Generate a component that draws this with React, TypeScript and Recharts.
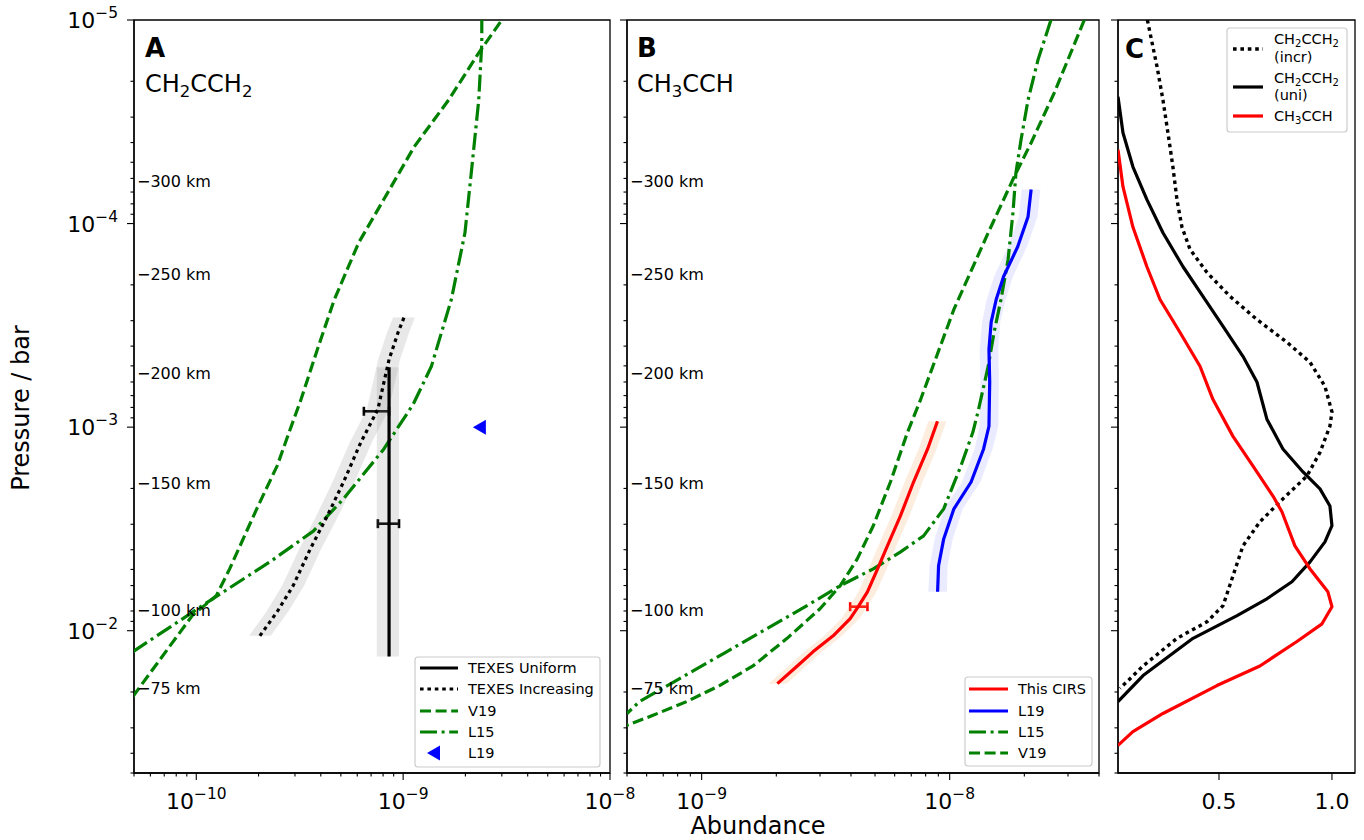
import React from "react";
import { ScatterChart, Scatter, XAxis, YAxis, ReferenceArea, ErrorBar } from "recharts";

const FONT = "'DejaVu Sans', sans-serif";
const GREEN = "#008000";
const LW = 3.2;
const DASH = "11 4.6";
const DASHDOT = "17 4.6 3 4.6";
const DOT = "3.6 3.8";

// axes
const pressDomain = [1e-5, 5e-2];
const domainA = [5e-11, 1e-8];
const domainB = [5e-10, 4e-8];
const domainC = [0.053, 1.102];

const yTicks = [
  1e-5, 2e-5, 3e-5, 4e-5, 5e-5, 6e-5, 7e-5, 8e-5, 9e-5,
  1e-4, 2e-4, 3e-4, 4e-4, 5e-4, 6e-4, 7e-4, 8e-4, 9e-4,
  1e-3, 2e-3, 3e-3, 4e-3, 5e-3, 6e-3, 7e-3, 8e-3, 9e-3,
  1e-2, 2e-2, 3e-2, 4e-2, 5e-2,
];
const xTicksA = [
  5e-11, 6e-11, 7e-11, 8e-11, 9e-11,
  1e-10, 2e-10, 3e-10, 4e-10, 5e-10, 6e-10, 7e-10, 8e-10, 9e-10,
  1e-9, 2e-9, 3e-9, 4e-9, 5e-9, 6e-9, 7e-9, 8e-9, 9e-9, 1e-8,
];
const xTicksB = [
  5e-10, 6e-10, 7e-10, 8e-10, 9e-10,
  1e-9, 2e-9, 3e-9, 4e-9, 5e-9, 6e-9, 7e-9, 8e-9, 9e-9,
  1e-8, 2e-8, 3e-8, 4e-8,
];
const xTicksC = [0.5, 1.0];

// altitude markers
const kmLabels = ["300", "250", "200", "150", "100", "75"];
const kmPress = [6.15e-5, 1.76e-4, 5.43e-4, 1.88e-3, 7.9e-3, 1.92e-2];

// panel A: CH2CCH2
const v19PressA = [2.11e-2, 8.43e-3, 6.73e-3, 4.97e-3, 2.52e-3, 1.55e-3, 1.06e-3, 7.3e-4, 4.15e-4, 2.36e-4, 1.24e-4, 7.6e-5, 4.2e-5, 2.47e-5, 1.45e-5, 1.0e-5];
const v19AbunA = [4.93e-11, 9.56e-11, 1.25e-10, 1.45e-10, 1.96e-10, 2.46e-10, 2.81e-10, 3.21e-10, 3.85e-10, 4.65e-10, 6.1e-10, 8.07e-10, 1.13e-9, 1.66e-9, 2.32e-9, 3.0e-9];
const l15PressA = [1.27e-2, 6.97e-3, 4.59e-3, 3.24e-3, 2.25e-3, 1.28e-3, 7.7e-4, 5.02e-4, 2.36e-4, 1.11e-4, 5.26e-5, 2.47e-5, 1.3e-5, 1.0e-5];
const l15AbunA = [4.93e-11, 1.2e-10, 2.27e-10, 3.68e-10, 5.15e-10, 8.07e-10, 1.12e-9, 1.37e-9, 1.71e-9, 1.99e-9, 2.15e-9, 2.32e-9, 2.4e-9, 2.4e-9];
const uniPress = [5.08e-4, 1.34e-2];
const uniAbun = [8.55e-10, 8.55e-10];
const uniLo = [7.46e-10, 7.46e-10];
const uniHi = [9.55e-10, 9.55e-10];
const incrPress = [1.06e-2, 8.07e-3, 6.01e-3, 3.96e-3, 2.73e-3, 1.86e-3, 1.19e-3, 8.17e-4, 4.65e-4, 3.42e-4, 2.89e-4];
const incrAbun = [2.03e-10, 2.46e-10, 2.94e-10, 3.56e-10, 4.3e-10, 5.15e-10, 6.24e-10, 7.55e-10, 8.55e-10, 9.46e-10, 1.01e-9];
const incrLo = [1.8e-10, 2.18e-10, 2.6e-10, 3.15e-10, 3.8e-10, 4.56e-10, 5.52e-10, 6.68e-10, 7.57e-10, 8.37e-10, 8.94e-10];
const incrHi = [2.29e-10, 2.78e-10, 3.32e-10, 4.02e-10, 4.86e-10, 5.82e-10, 7.05e-10, 8.53e-10, 9.66e-10, 1.07e-9, 1.14e-9];
const errPressA = [8.36e-4, 2.98e-3];
const errAbunA = [7.43e-10, 8.55e-10];
const errLowA = [0.97e-10, 1.0e-10];
const errHighA = [1.12e-10, 1.0e-10];
const l19PointPress = [1e-3];
const l19PointAbun = [2.35e-9];

// panel B: CH3CCH
const l19Press = [6.8e-5, 9.25e-5, 1.3e-4, 1.82e-4, 2.36e-4, 3.05e-4, 4.15e-4, 6.0e-4, 9.9e-4, 1.28e-3, 1.86e-3, 2.52e-3, 3.54e-3, 4.8e-3, 6.44e-3];
const l19Abun = [2.13e-8, 2.07e-8, 1.88e-8, 1.65e-8, 1.54e-8, 1.47e-8, 1.44e-8, 1.45e-8, 1.44e-8, 1.37e-8, 1.22e-8, 1.04e-8, 9.46e-9, 9.02e-9, 8.94e-9];
const l19Lo = [1.95e-8, 1.9e-8, 1.72e-8, 1.51e-8, 1.41e-8, 1.35e-8, 1.32e-8, 1.33e-8, 1.32e-8, 1.26e-8, 1.12e-8, 9.5e-9, 8.7e-9, 8.3e-9, 8.2e-9];
const l19Hi = [2.32e-8, 2.26e-8, 2.05e-8, 1.8e-8, 1.68e-8, 1.6e-8, 1.57e-8, 1.58e-8, 1.57e-8, 1.49e-8, 1.33e-8, 1.13e-8, 1.03e-8, 9.8e-9, 9.75e-9];
const cirsPress = [9.36e-4, 1.28e-3, 1.86e-3, 2.73e-3, 3.83e-3, 4.97e-3, 6.44e-3, 7.62e-3, 8.73e-3, 1.06e-2, 1.27e-2, 1.49e-2, 1.82e-2];
const cirsAbun = [8.93e-9, 8.15e-9, 7.15e-9, 6.33e-9, 5.61e-9, 5.12e-9, 4.66e-9, 4.28e-9, 3.97e-9, 3.39e-9, 2.81e-9, 2.43e-9, 2.02e-9];
const cirsLo = [8.2e-9, 7.5e-9, 6.58e-9, 5.82e-9, 5.16e-9, 4.71e-9, 4.29e-9, 3.94e-9, 3.65e-9, 3.12e-9, 2.59e-9, 2.24e-9, 1.86e-9];
const cirsHi = [9.7e-9, 8.86e-9, 7.77e-9, 6.88e-9, 6.1e-9, 5.57e-9, 5.07e-9, 4.65e-9, 4.32e-9, 3.68e-9, 3.05e-9, 2.64e-9, 2.2e-9];
const errPressB = [7.62e-3];
const errAbunB = [4.28e-9];
const errLowB = [0.31e-9];
const errHighB = [0.38e-9];
const v19PressB = [1.0e-5, 2.28e-5, 4.01e-5, 5.89e-5, 1.11e-4, 2.64e-4, 7.3e-4, 1.06e-3, 1.86e-3, 3.05e-3, 4.44e-3, 6.01e-3, 7.8e-3, 1.09e-2, 1.49e-2, 1.86e-2, 2.23e-2, 2.61e-2, 2.92e-2];
const v19AbunB = [3.49e-8, 2.64e-8, 2.13e-8, 1.82e-8, 1.43e-8, 1.04e-8, 7.64e-9, 6.76e-9, 5.77e-9, 4.92e-9, 4.24e-9, 3.62e-9, 3.0e-9, 2.21e-9, 1.61e-9, 1.18e-9, 8.7e-10, 6.33e-10, 4.97e-10];
const l15PressB = [1.0e-5, 1.57e-5, 2.47e-5, 3.87e-5, 5.62e-5, 8.83e-5, 1.5e-4, 2.36e-4, 3.42e-4, 5.02e-4, 8.43e-4, 1.06e-3, 1.55e-3, 2.52e-3, 3.42e-3, 4.1e-3, 4.97e-3, 6.01e-3, 7.53e-3, 9.77e-3, 1.27e-2, 1.72e-2, 2.23e-2, 2.55e-2];
const l15AbunB = [2.56e-8, 2.27e-8, 2.07e-8, 1.94e-8, 1.85e-8, 1.8e-8, 1.72e-8, 1.61e-8, 1.51e-8, 1.43e-8, 1.3e-8, 1.24e-8, 1.11e-8, 9.46e-9, 7.85e-9, 6.34e-9, 4.92e-9, 3.62e-9, 2.66e-9, 1.83e-9, 1.26e-9, 8.15e-10, 5.61e-10, 5.0e-10];

// panel C: normalised contribution functions
const cIncrPress = [1.0e-5, 1.7e-5, 2.47e-5, 3.58e-5, 5.26e-5, 7.63e-5, 1.04e-4, 1.34e-4, 1.74e-4, 2.28e-4, 2.96e-4, 3.83e-4, 4.8e-4, 6.3e-4, 8.43e-4, 9.89e-4, 1.33e-3, 1.74e-3, 2.25e-3, 2.92e-3, 3.83e-3, 5.37e-3, 7.53e-3, 9.04e-3, 1.09e-2, 1.49e-2, 1.92e-2];
const cIncrVal = [0.183, 0.226, 0.252, 0.274, 0.296, 0.314, 0.336, 0.372, 0.447, 0.549, 0.668, 0.801, 0.903, 0.969, 1.0, 0.991, 0.947, 0.889, 0.783, 0.681, 0.606, 0.562, 0.518, 0.447, 0.314, 0.164, 0.062];
const cUniPress = [2.38e-5, 3.58e-5, 5.26e-5, 7.63e-5, 1.11e-4, 1.63e-4, 2.28e-4, 3.2e-4, 4.49e-4, 6.0e-4, 9.14e-4, 1.28e-3, 1.66e-3, 2.01e-3, 2.44e-3, 3.05e-3, 3.66e-3, 4.59e-3, 5.75e-3, 6.97e-3, 8.43e-3, 1.09e-2, 1.66e-2, 2.23e-2];
const cUniVal = [0.053, 0.075, 0.119, 0.181, 0.252, 0.341, 0.429, 0.518, 0.606, 0.668, 0.712, 0.783, 0.872, 0.947, 0.991, 1.0, 0.969, 0.903, 0.823, 0.712, 0.58, 0.385, 0.164, 0.053];
const cMaPress = [4.34e-5, 6.59e-5, 1.04e-4, 1.63e-4, 2.36e-4, 3.42e-4, 5.02e-4, 7.3e-4, 1.11e-3, 1.55e-3, 2.18e-3, 2.61e-3, 3.83e-3, 4.97e-3, 6.44e-3, 7.62e-3, 9.25e-3, 1.13e-2, 1.49e-2, 1.86e-2, 2.55e-2, 3.13e-2, 3.66e-2];
const cMaVal = [0.053, 0.075, 0.119, 0.181, 0.239, 0.327, 0.416, 0.473, 0.562, 0.65, 0.739, 0.779, 0.836, 0.903, 0.982, 1.0, 0.956, 0.845, 0.681, 0.491, 0.252, 0.119, 0.053];

const pts = (p: number[], x: number[]) => p.map((y, i) => ({ x: x[i], y }));
const band = (p: number[], lo: number[], hi: number[]) => [
  ...p.map((y, i) => ({ x: lo[i], y })),
  ...p.map((y, i) => ({ x: hi[i], y })).reverse(),
];
const errPts = (p: number[], x: number[], lo: number[], hi: number[]) =>
  p.map((y, i) => ({ x: x[i], y, err: [lo[i], hi[i]] }));
const kmPts = (x: number) => kmPress.map((y, i) => ({ x, y, label: kmLabels[i] }));

const isDecade = (v: number) => {
  const l = Math.log10(v);
  return Math.abs(l - Math.round(l)) < 1e-6;
};

const Hide = () => <g />;

const toPoints = (props: any) => (props.points || []).map((p: any) => `${p.x},${p.y}`).join(" ");

const polygon = (fill: string, opacity: number) => (props: any) => (
  <polygon points={toPoints(props)} fill={fill} fillOpacity={opacity} stroke="none" />
);

const polyline = (stroke: string, width: number, dash?: string) => (props: any) => (
  <polyline
    points={toPoints(props)}
    fill="none"
    stroke={stroke}
    strokeWidth={width}
    strokeDasharray={dash}
    strokeLinejoin="round"
  />
);

const TriLeft = (props: any) => {
  const { cx, cy } = props;
  return <polygon points={`${cx - 7},${cy} ${cx + 6},${cy - 7.5} ${cx + 6},${cy + 7.5}`} fill="#0000ff" />;
};

const KmLabel = (props: any) => {
  const label = props.payload?.label ?? props.label;
  return (
    <text x={props.cx + 3} y={props.cy + 6} fontSize={16} fontFamily={FONT} fill="#000">
      {`\u2212${label} km`}
    </text>
  );
};

function PowerLabel({ x, y, v, anchor }: { x: number; y: number; v: number; anchor: string }) {
  const e = Math.round(Math.log10(v));
  return (
    <text x={x} y={y} textAnchor={anchor} fontFamily={FONT} fontSize={22} fill="#000">
      <tspan>10</tspan>
      <tspan dy={-10} fontSize={15.5}>{e < 0 ? `\u2212${-e}` : `${e}`}</tspan>
    </text>
  );
}

const logXTick = (props: any) => {
  const { x, y, payload } = props;
  const major = isDecade(payload.value);
  return (
    <g>
      <line x1={x} x2={x} y1={y} y2={y + (major ? 7 : 3.5)} stroke="#000" strokeWidth={1.1} />
      {major && <PowerLabel x={x} y={y + 36} v={payload.value} anchor="middle" />}
    </g>
  );
};

const linXTick = (props: any) => {
  const { x, y, payload } = props;
  return (
    <g>
      <line x1={x} x2={x} y1={y} y2={y + 7} stroke="#000" strokeWidth={1.1} />
      <text x={x} y={y + 36} textAnchor="middle" fontFamily={FONT} fontSize={22} fill="#000">
        {payload.value.toFixed(1)}
      </text>
    </g>
  );
};

const yTick = (showLabel: boolean) => (props: any) => {
  const { x, y, payload } = props;
  const major = isDecade(payload.value);
  return (
    <g>
      <line x1={x - (major ? 7 : 3.5)} x2={x} y1={y} y2={y} stroke="#000" strokeWidth={1.1} />
      {major && showLabel && <PowerLabel x={x - 16} y={y + 8} v={payload.value} anchor="end" />}
    </g>
  );
};

function Panel({ left, width, yWidth, marginRight, xDomain, xTicks, logX, yLabels, children }: any) {
  return (
    <div style={{ position: "absolute", left, top: 0 }}>
      <ScatterChart width={width} height={840} margin={{ top: 20, right: marginRight, bottom: 0, left: 0 }}>
        <XAxis
          type="number"
          dataKey="x"
          scale={logX ? "log" : "linear"}
          domain={xDomain}
          allowDataOverflow
          ticks={xTicks}
          interval={0}
          tickSize={0}
          tickMargin={0}
          tickLine={false}
          tick={logX ? logXTick : linXTick}
          axisLine={{ stroke: "#000", strokeWidth: 1.3 }}
          height={67}
        />
        <YAxis
          type="number"
          dataKey="y"
          scale="log"
          domain={pressDomain}
          reversed
          allowDataOverflow
          ticks={yTicks}
          interval={0}
          tickSize={0}
          tickMargin={0}
          tickLine={false}
          tick={yTick(yLabels)}
          axisLine={{ stroke: "#000", strokeWidth: 1.3 }}
          width={yWidth}
        />
        {children}
        <ReferenceArea
          x1={xDomain[0]}
          x2={xDomain[1]}
          y1={pressDomain[0]}
          y2={pressDomain[1]}
          fill="none"
          stroke="#000"
          strokeWidth={1.3}
          ifOverflow="visible"
        />
      </ScatterChart>
    </div>
  );
}

const lineSeries = (key: string, data: any[], stroke: string, dash?: string, width = LW) => (
  <Scatter
    key={key}
    data={data}
    shape={Hide}
    line={polyline(stroke, width, dash)}
    isAnimationActive={false}
    legendType="none"
  />
);

const bandSeries = (key: string, data: any[], fill: string, opacity: number) => (
  <Scatter key={key} data={data} shape={Hide} line={polygon(fill, opacity)} isAnimationActive={false} legendType="none" />
);

function LegendBox({ x, y, w, h, children }: any) {
  return (
    <g>
      <rect x={x} y={y} width={w} height={h} rx={3} fill="#fff" fillOpacity={0.85} stroke="#cccccc" strokeWidth={1.2} />
      {children}
    </g>
  );
}

function LegendLine({ x1, x2, y, stroke, dash, width = LW }: any) {
  return <line x1={x1} x2={x2} y1={y} y2={y} stroke={stroke} strokeWidth={width} strokeDasharray={dash} />;
}

function LegendText({ x, y, children }: any) {
  return (
    <text x={x} y={y + 5} fontFamily={FONT} fontSize={14.5} fill="#000">
      {children}
    </text>
  );
}

export default function App() {
  return (
    <div style={{ position: "absolute", left: 0, top: 0, width: 1364, height: 840, background: "#fff", overflow: "hidden" }}>
      <Panel left={0} width={680} yWidth={134} marginRight={70} xDomain={domainA} xTicks={xTicksA} logX yLabels>
        {bandSeries("incrBand", band(incrPress, incrLo, incrHi), "#808080", 0.18)}
        {bandSeries("uniBand", band(uniPress, uniLo, uniHi), "#808080", 0.18)}
        {lineSeries("v19A", pts(v19PressA, v19AbunA), GREEN, DASH)}
        {lineSeries("l15A", pts(l15PressA, l15AbunA), GREEN, DASHDOT)}
        {lineSeries("uni", pts(uniPress, uniAbun), "#000")}
        {lineSeries("incr", pts(incrPress, incrAbun), "#000", DOT)}
        <Scatter data={errPts(errPressA, errAbunA, errLowA, errHighA)} shape={Hide} isAnimationActive={false} legendType="none">
          <ErrorBar dataKey="err" direction="x" width={4.5} stroke="#000" strokeWidth={2.6} />
        </Scatter>
        <Scatter data={pts(l19PointPress, l19PointAbun)} shape={TriLeft} isAnimationActive={false} legendType="none" />
        <Scatter data={kmPts(domainA[0])} shape={KmLabel} isAnimationActive={false} legendType="none" />
      </Panel>

      <Panel left={615} width={495} yWidth={12} marginRight={11} xDomain={domainB} xTicks={xTicksB} logX yLabels={false}>
        {bandSeries("cirsBand", band(cirsPress, cirsLo, cirsHi), "#f4a460", 0.2)}
        {bandSeries("l19Band", band(l19Press, l19Lo, l19Hi), "#0000ff", 0.08)}
        {lineSeries("v19B", pts(v19PressB, v19AbunB), GREEN, DASH)}
        {lineSeries("l15B", pts(l15PressB, l15AbunB), GREEN, DASHDOT)}
        {lineSeries("l19", pts(l19Press, l19Abun), "#0000ff")}
        {lineSeries("cirs", pts(cirsPress, cirsAbun), "#ff0000")}
        <Scatter data={errPts(errPressB, errAbunB, errLowB, errHighB)} shape={Hide} isAnimationActive={false} legendType="none">
          <ErrorBar dataKey="err" direction="x" width={4.5} stroke="#ff0000" strokeWidth={2.6} />
        </Scatter>
        <Scatter data={kmPts(domainB[0])} shape={KmLabel} isAnimationActive={false} legendType="none" />
      </Panel>

      <Panel left={1106} width={258} yWidth={12} marginRight={9} xDomain={domainC} xTicks={xTicksC} logX={false} yLabels={false}>
        {lineSeries("cIncr", pts(cIncrPress, cIncrVal), "#000", DOT, 3.4)}
        {lineSeries("cUni", pts(cUniPress, cUniVal), "#000")}
        {lineSeries("cMa", pts(cMaPress, cMaVal), "#ff0000")}
      </Panel>

      <svg width={1364} height={840} style={{ position: "absolute", left: 0, top: 0, pointerEvents: "none" }}>
        {/* axis titles */}
        <text x={29} y={408} transform="rotate(-90 29 408)" textAnchor="middle" fontFamily={FONT} fontSize={24} fill="#000">
          Pressure / bar
        </text>
        <text x={758} y={834} textAnchor="middle" fontFamily={FONT} fontSize={24} fill="#000">
          Abundance
        </text>

        {/* panel labels */}
        <text x={145} y={57} fontFamily={FONT} fontSize={26} fontWeight="bold">A</text>
        <text x={145} y={92} fontFamily={FONT} fontSize={24}>
          <tspan>CH</tspan><tspan dy={5} fontSize={16.5}>2</tspan><tspan dy={-5}>CCH</tspan><tspan dy={5} fontSize={16.5}>2</tspan>
        </text>
        <text x={637} y={57} fontFamily={FONT} fontSize={26} fontWeight="bold">B</text>
        <text x={637} y={92} fontFamily={FONT} fontSize={24}>
          <tspan>CH</tspan><tspan dy={5} fontSize={16.5}>3</tspan><tspan dy={-5}>CCH</tspan>
        </text>
        <text x={1125} y={58} fontFamily={FONT} fontSize={26} fontWeight="bold">C</text>

        {/* legend A */}
        <LegendBox x={415} y={657} w={185} h={110}>
          <LegendLine x1={420} x2={458} y={668} stroke="#000" />
          <LegendText x={468} y={668}>TEXES Uniform</LegendText>
          <LegendLine x1={420} x2={458} y={689} stroke="#000" dash={DOT} />
          <LegendText x={468} y={689}>TEXES Increasing</LegendText>
          <LegendLine x1={420} x2={458} y={711} stroke={GREEN} dash={DASH} />
          <LegendText x={468} y={711}>V19</LegendText>
          <LegendLine x1={420} x2={458} y={732} stroke={GREEN} dash={DASHDOT} />
          <LegendText x={468} y={732}>L15</LegendText>
          <polygon points="427,753 440,745.5 440,760.5" fill="#0000ff" />
          <LegendText x={468} y={753}>L19</LegendText>
        </LegendBox>

        {/* legend B */}
        <LegendBox x={965} y={677} w={127} h={89}>
          <LegendLine x1={969} x2={1008} y={689} stroke="#ff0000" />
          <LegendText x={1018} y={689}>This CIRS</LegendText>
          <LegendLine x1={969} x2={1008} y={711} stroke="#0000ff" />
          <LegendText x={1018} y={711}>L19</LegendText>
          <LegendLine x1={969} x2={1008} y={732} stroke={GREEN} dash={DASHDOT} />
          <LegendText x={1018} y={732}>L15</LegendText>
          <LegendLine x1={969} x2={1008} y={753} stroke={GREEN} dash={DASH} />
          <LegendText x={1018} y={753}>V19</LegendText>
        </LegendBox>

        {/* legend C */}
        <LegendBox x={1227} y={28} w={120} h={104}>
          <LegendLine x1={1233} x2={1263} y={49} stroke="#000" dash={DOT} width={3.4} />
          <text x={1274} y={44} fontFamily={FONT} fontSize={14.5}>
            <tspan>CH</tspan><tspan dy={3} fontSize={10}>2</tspan><tspan dy={-3}>CCH</tspan><tspan dy={3} fontSize={10}>2</tspan>
          </text>
          <LegendText x={1274} y={57}>(incr)</LegendText>
          <LegendLine x1={1233} x2={1263} y={87} stroke="#000" />
          <text x={1274} y={83} fontFamily={FONT} fontSize={14.5}>
            <tspan>CH</tspan><tspan dy={3} fontSize={10}>2</tspan><tspan dy={-3}>CCH</tspan><tspan dy={3} fontSize={10}>2</tspan>
          </text>
          <LegendText x={1274} y={95}>(uni)</LegendText>
          <LegendLine x1={1233} x2={1263} y={116} stroke="#ff0000" />
          <text x={1274} y={121} fontFamily={FONT} fontSize={14.5}>
            <tspan>CH</tspan><tspan dy={3} fontSize={10}>3</tspan><tspan dy={-3}>CCH</tspan>
          </text>
        </LegendBox>
      </svg>
    </div>
  );
}
